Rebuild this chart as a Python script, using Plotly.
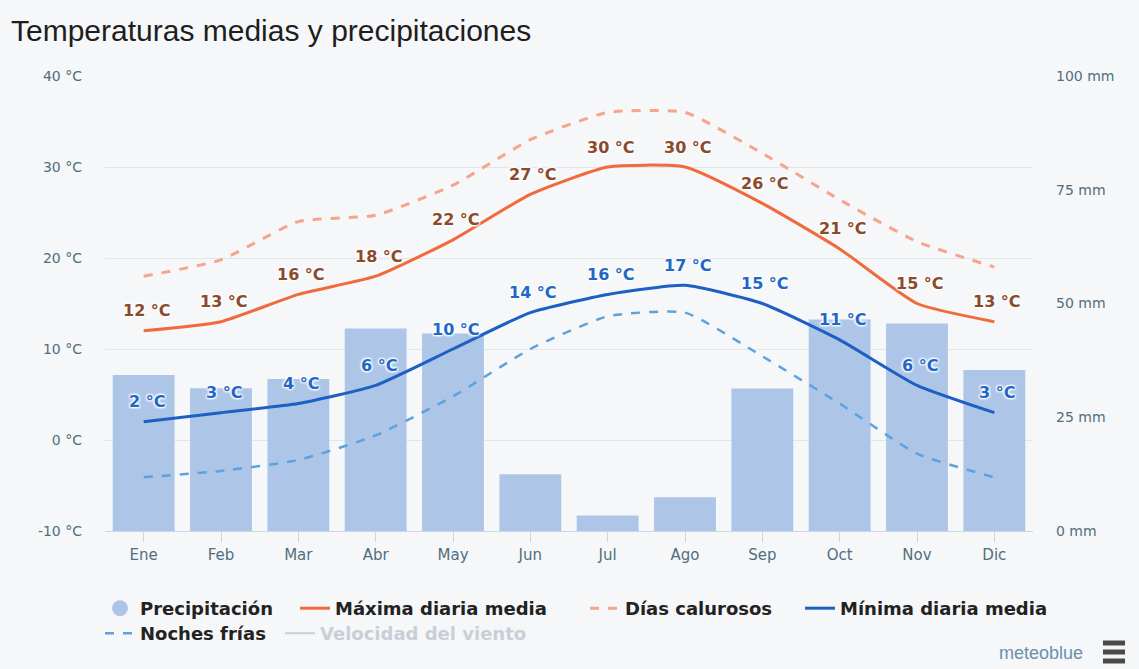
import plotly.graph_objects as go

# Monthly climate summary
months = ["Ene", "Feb", "Mar", "Abr", "May", "Jun", "Jul", "Ago", "Sep", "Oct", "Nov", "Dic"]
precip_mm = [34.3, 31.4, 33.4, 44.5, 43.4, 12.5, 3.4, 7.4, 31.3, 46.5, 45.6, 35.4]
max_mean = [12, 13, 16, 18, 22, 27, 30, 30, 26, 21, 15, 13]
hot_days = [18.0, 19.8, 24.0, 24.7, 28.0, 33.0, 36.0, 36.0, 31.5, 26.4, 21.8, 19.0]
min_mean = [2, 3, 4, 6, 10, 14, 16, 17, 15, 11, 6, 3]
cold_nights = [-4.1, -3.4, -2.2, 0.5, 4.8, 10.0, 13.6, 14.0, 9.2, 4.0, -1.5, -4.1]

temp_ticks = [-10, 0, 10, 20, 30, 40]
mm_ticks = [0, 25, 50, 75, 100]

W, H = 1139, 669
ML, MR, MT, MB = 105, 106, 76, 138
PW, PH = W - ML - MR, H - MT - MB

BG = "#f6f7f9"
TICK_COLOR = "#4f6f7f"
HALO = ("1px 1px 2px #ffffff, -1px -1px 2px #ffffff, "
        "1px -1px 2px #ffffff, -1px 1px 2px #ffffff")
SMOOTH = 0.5


def px_x(px):
    return (px - ML) / PW


def px_y(py):
    return (H - MB - py) / PH


fig = go.Figure()

# Precipitation bars on the right-hand mm axis (drawn underneath)
fig.add_trace(go.Bar(
    x=months, y=precip_mm, yaxis="y", name="Precipitación",
    marker=dict(color="#adc6e8", line=dict(width=0)),
    showlegend=False, hoverinfo="skip",
))

# Temperature series on the left-hand axis
fig.add_trace(go.Scatter(
    x=months, y=hot_days, yaxis="y2", name="Días calurosos", mode="lines",
    line=dict(color="#f7a48c", width=3, dash="dash", shape="spline", smoothing=SMOOTH),
    showlegend=False,
))
fig.add_trace(go.Scatter(
    x=months, y=cold_nights, yaxis="y2", name="Noches frías", mode="lines",
    line=dict(color="#5aa3df", width=2.5, dash="dash", shape="spline", smoothing=SMOOTH),
    showlegend=False,
))
fig.add_trace(go.Scatter(
    x=months, y=max_mean, yaxis="y2", name="Máxima diaria media", mode="lines",
    line=dict(color="#f06a3c", width=3, shape="spline", smoothing=SMOOTH),
    showlegend=False,
))
fig.add_trace(go.Scatter(
    x=months, y=min_mean, yaxis="y2", name="Mínima diaria media", mode="lines",
    line=dict(color="#1d5fc2", width=3, shape="spline", smoothing=SMOOTH),
    showlegend=False,
))

# Value labels above the max / min lines
annotations = []
for series, color in ((max_mean, "#8a4a2c"), (min_mean, "#1f68c8")):
    for m, v in zip(months, series):
        annotations.append(dict(
            x=m, y=v, xref="x", yref="y2", text=f"{v} °C", showarrow=False,
            xanchor="center", yanchor="middle", xshift=3, yshift=20,
            font=dict(family="DejaVu Sans", size=16, color=color, weight="bold", shadow=HALO),
        ))

# Legend: one entry per legend box so each can sit at its own spot
# (legend id, left edge px, top edge px, text colour, trace style)
legend_items = [
    ("legend", 100, 590, "#222222",
     dict(name="Precipitación", mode="markers",
          marker=dict(symbol="circle", size=17, color="#adc6e8"))),
    ("legend2", 295, 590, "#222222",
     dict(name="Máxima diaria media", mode="lines", line=dict(color="#f06a3c", width=3))),
    ("legend3", 585, 590, "#222222",
     dict(name="Días calurosos", mode="lines",
          line=dict(color="#f7a48c", width=3, dash="dash"))),
    ("legend4", 800, 590, "#222222",
     dict(name="Mínima diaria media", mode="lines", line=dict(color="#1d5fc2", width=3))),
    ("legend5", 100, 615, "#222222",
     dict(name="Noches frías", mode="lines",
          line=dict(color="#5aa3df", width=2.5, dash="dash"))),
    ("legend6", 280, 615, "#9aa9b7",
     dict(name="Velocidad del viento", mode="lines",
          line=dict(color="#a8a8a8", width=2), visible="legendonly")),
]
legend_layout = {}
for leg, left, top, tcolor, item in legend_items:
    fig.add_trace(go.Scatter(x=[None], y=[None], yaxis="y2", hoverinfo="skip",
                             legend=leg, **item))
    legend_layout[leg] = dict(
        orientation="h", xref="container", x=left / W, xanchor="left",
        yref="container", y=1 - top / H, yanchor="top",
        font=dict(family="DejaVu Sans", size=18, color=tcolor, weight="bold"),
        bgcolor="rgba(0,0,0,0)",
    )

# meteoblue credit and menu icon
annotations.append(dict(
    text="meteoblue", xref="paper", yref="paper",
    x=px_x(1085), y=px_y(653), xanchor="right", yanchor="middle", showarrow=False,
    font=dict(family="Liberation Sans Narrow, Liberation Sans", size=18, color="#6a90ab"),
))
menu_bars = [dict(type="rect", xref="paper", yref="paper",
                  x0=px_x(1103), x1=px_x(1125), y0=px_y(yc + 2.5), y1=px_y(yc - 2.5),
                  fillcolor="#4a4a4a", line=dict(width=0))
             for yc in (643, 652, 661)]

fig.update_layout(
    width=W, height=H,
    margin=dict(l=ML, r=MR, t=MT, b=MB),
    paper_bgcolor=BG, plot_bgcolor=BG,
    bargap=0.2,
    font=dict(family="DejaVu Sans", color=TICK_COLOR),
    title=dict(
        text="Temperaturas medias y precipitaciones",
        font=dict(family="Liberation Sans", size=30, color="#1e1e1e"),
        xref="container", yref="container",
        x=11 / W, xanchor="left", y=1 - 30 / H, yanchor="middle",
    ),
    xaxis=dict(
        type="category", range=[-0.5, 11.5],
        showgrid=False, showline=True, linecolor="#ccd6eb", linewidth=1,
        ticks="outside", ticklen=10, tickcolor="#ccd6eb",
        tickfont=dict(size=15, color=TICK_COLOR),
        zeroline=False,
    ),
    yaxis=dict(
        side="right", range=[0, 100], tickvals=mm_ticks,
        ticktext=[f"{v} mm" for v in mm_ticks],
        showgrid=False, zeroline=False,
        tickfont=dict(size=14, color=TICK_COLOR), ticklabelstandoff=22,
    ),
    yaxis2=dict(
        overlaying="y", side="left", range=[-10, 40], tickvals=temp_ticks,
        ticktext=[f"{v} °C" for v in temp_ticks],
        showgrid=True, gridcolor="#e1e6ed", gridwidth=1, zeroline=False,
        tickfont=dict(size=14, color=TICK_COLOR), ticklabelstandoff=22,
    ),
    annotations=annotations,
    shapes=menu_bars,
    **legend_layout,
)

fig.write_html("out.html")
